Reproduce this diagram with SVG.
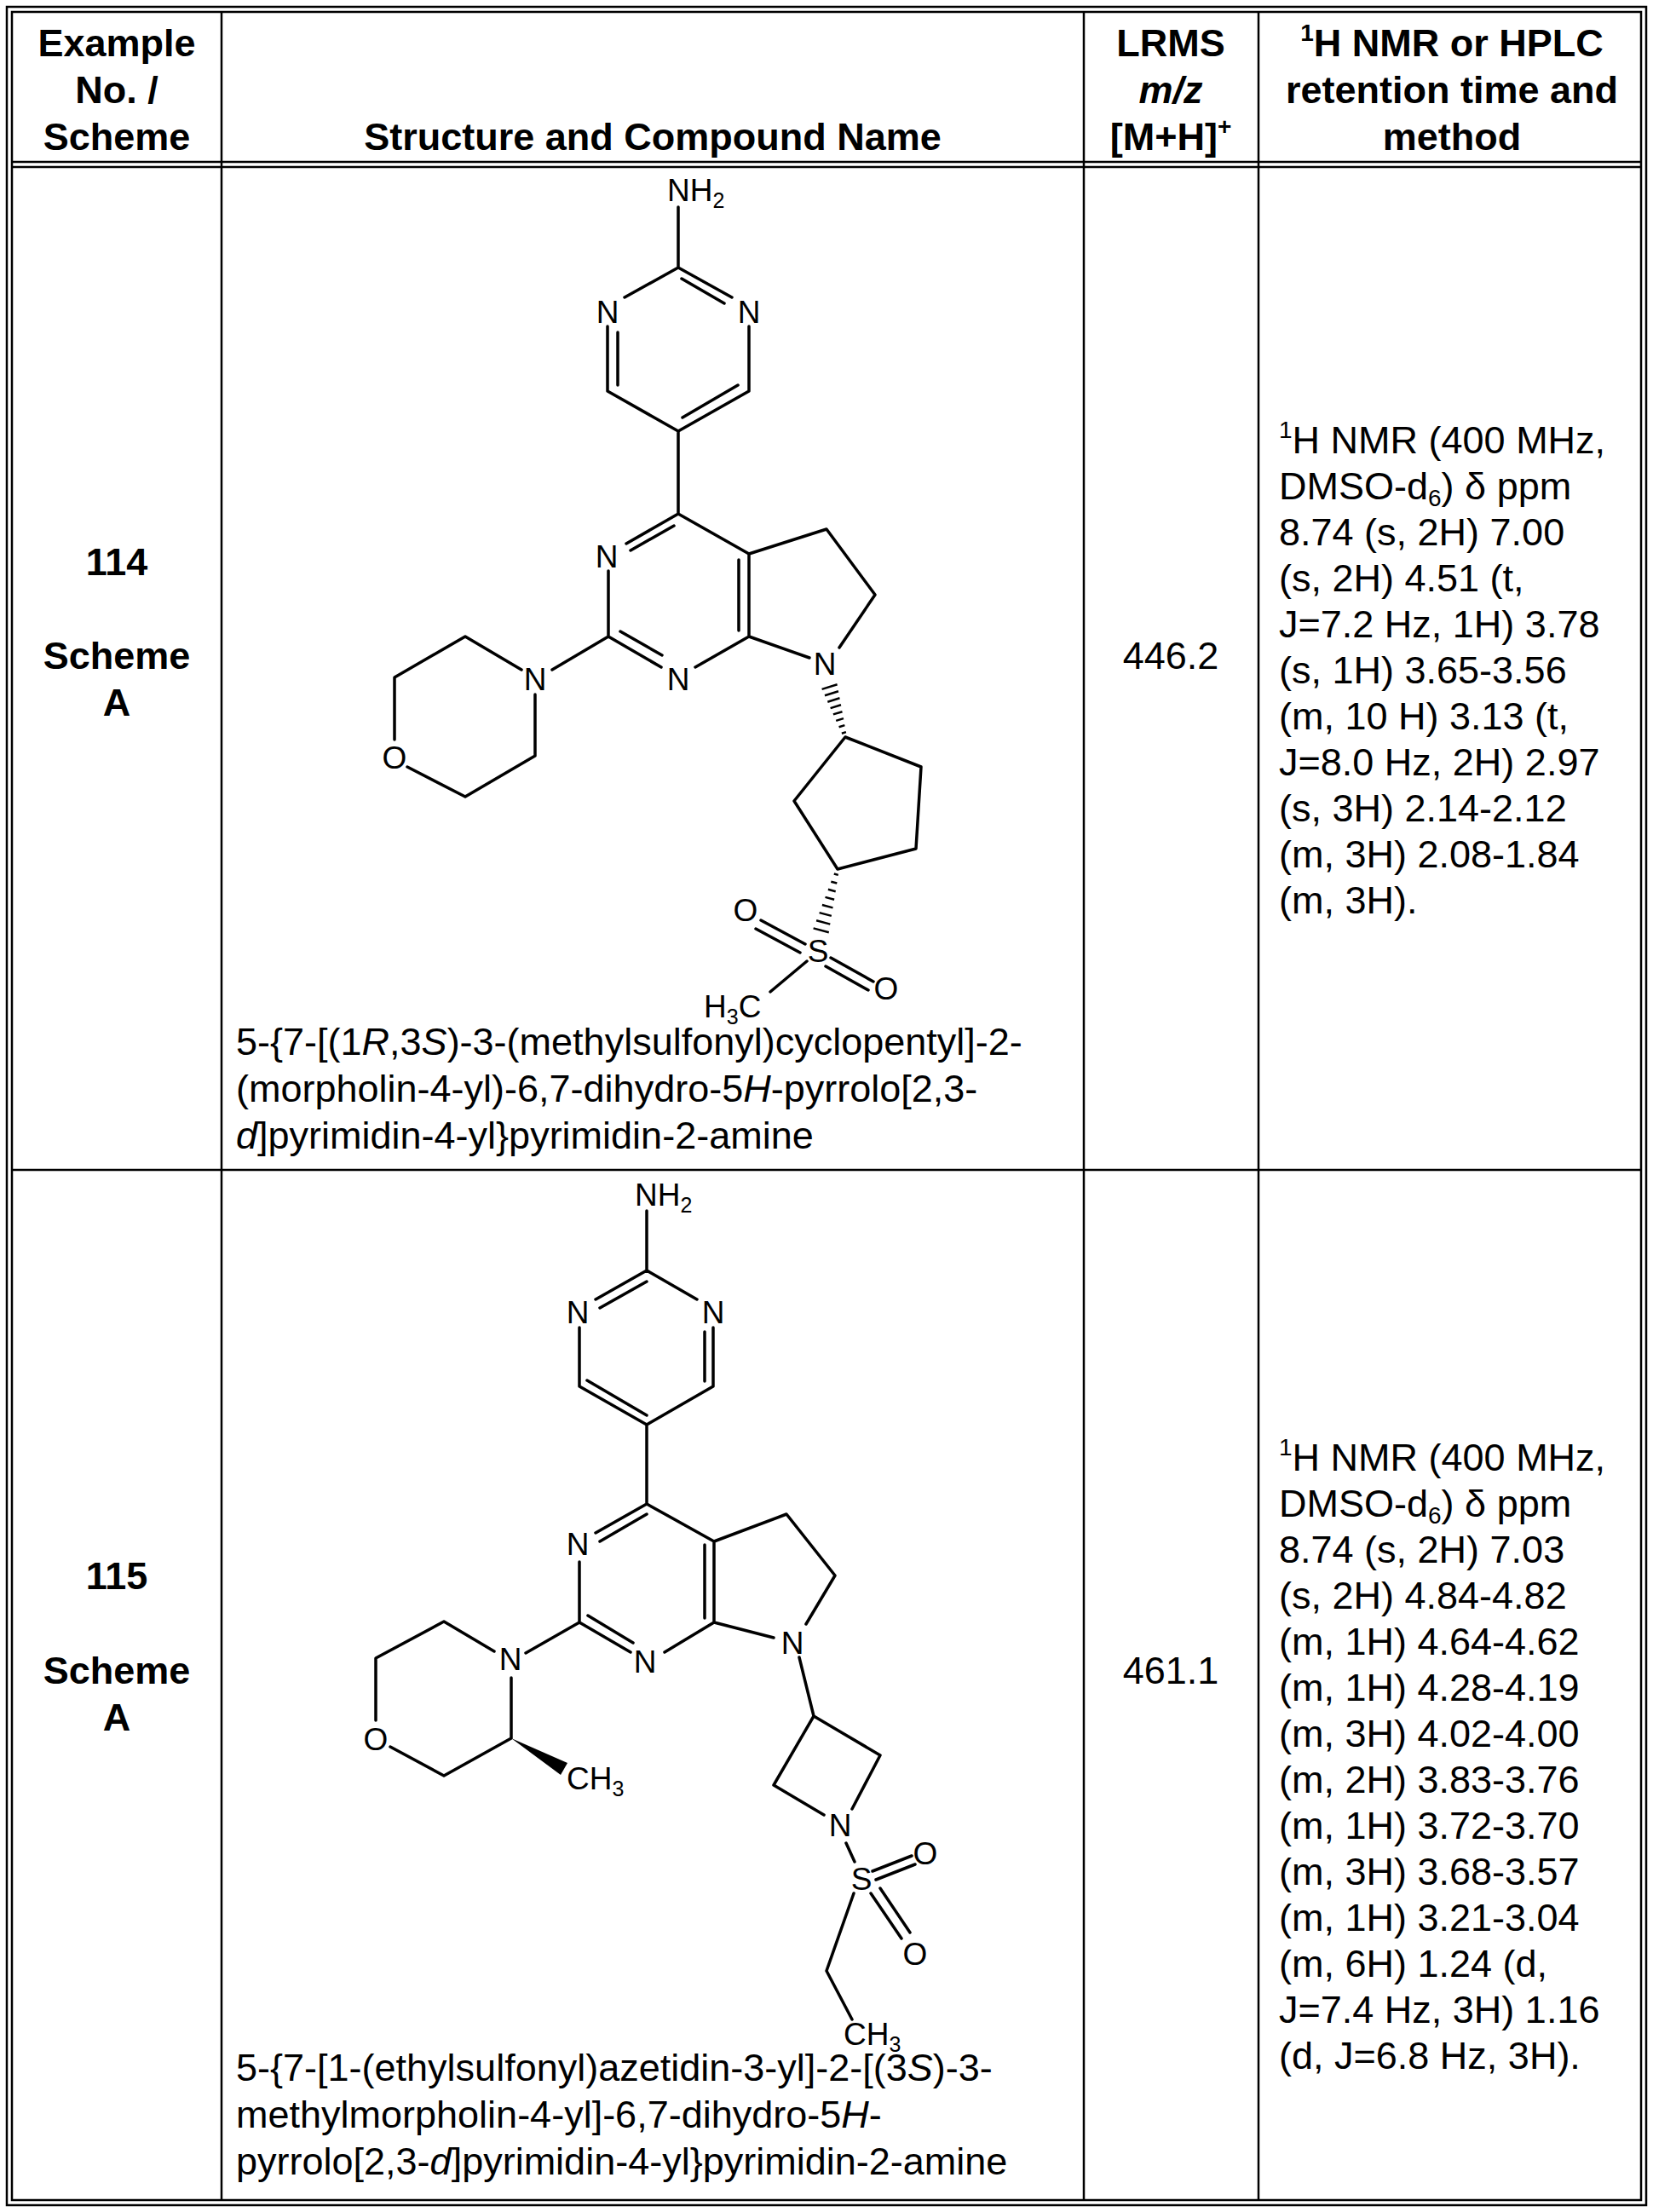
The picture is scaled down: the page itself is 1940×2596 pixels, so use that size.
<svg xmlns="http://www.w3.org/2000/svg" width="1940" height="2596" viewBox="0 0 1940 2596">
<style>
.t{font-family:"Liberation Sans",Arial,sans-serif;font-size:45px;fill:#000}
.b{font-weight:bold}
.c{text-anchor:middle}
.a{font-family:"Liberation Sans",Arial,sans-serif;font-size:37px;fill:#000;text-anchor:middle}
.al{font-family:"Liberation Sans",Arial,sans-serif;font-size:37px;fill:#000}
.bd{stroke:#000;stroke-width:3.5;fill:none;stroke-linecap:round;stroke-linejoin:round}
.h{stroke:#000;stroke-width:2.5}
.tb{stroke:#000;stroke-width:2.5;fill:none}
</style>
<rect width="1940" height="2596" fill="#fff"/>
<g id="table">
<rect class="tb" x="8" y="8" width="1924" height="2580"/>
<rect class="tb" x="14" y="14" width="1912" height="2568"/>
<line class="tb" x1="14" y1="190" x2="1926" y2="190"/>
<line class="tb" x1="14" y1="196" x2="1926" y2="196"/>
<line class="tb" x1="14" y1="1373" x2="1926" y2="1373"/>
<line class="tb" x1="260" y1="14" x2="260" y2="2582"/>
<line class="tb" x1="1272" y1="14" x2="1272" y2="2582"/>
<line class="tb" x1="1477" y1="14" x2="1477" y2="2582"/>
</g>
<g id="header">
<text class="t b c" x="137" y="66">Example</text>
<text class="t b c" x="137" y="121">No. /</text>
<text class="t b c" x="137" y="176">Scheme</text>
<text class="t b c" x="766" y="176">Structure and Compound Name</text>
<text class="t b c" x="1374" y="66">LRMS</text>
<text class="t b c" x="1374" y="121" font-style="italic">m/z</text>
<text class="t b c" x="1374" y="176">[M+H]<tspan font-size="28" dy="-18">+</tspan></text>
<text class="t b c" x="1704" y="66"><tspan font-size="28" dy="-18">1</tspan><tspan dy="18">H NMR or HPLC</tspan></text>
<text class="t b c" x="1704" y="121">retention time and</text>
<text class="t b c" x="1704" y="176">method</text>
</g>
<g id="row114">
<text class="t b c" x="137" y="675">114</text>
<text class="t b c" x="137" y="785">Scheme</text>
<text class="t b c" x="137" y="840">A</text>
<text class="t c" x="1374" y="785">446.2</text>
<text class="t" x="1501">
<tspan x="1501" y="532"><tspan font-size="28" dy="-18">1</tspan><tspan dy="18">H NMR (400 MHz,</tspan></tspan>
<tspan x="1501" y="586">DMSO-d<tspan font-size="28" dy="8">6</tspan><tspan dy="-8">) δ ppm</tspan></tspan>
<tspan x="1501" y="640">8.74 (s, 2H) 7.00</tspan>
<tspan x="1501" y="694">(s, 2H) 4.51 (t,</tspan>
<tspan x="1501" y="748">J=7.2 Hz, 1H) 3.78</tspan>
<tspan x="1501" y="802">(s, 1H) 3.65-3.56</tspan>
<tspan x="1501" y="856">(m, 10 H) 3.13 (t,</tspan>
<tspan x="1501" y="910">J=8.0 Hz, 2H) 2.97</tspan>
<tspan x="1501" y="964">(s, 3H) 2.14-2.12</tspan>
<tspan x="1501" y="1018">(m, 3H) 2.08-1.84</tspan>
<tspan x="1501" y="1072">(m, 3H).</tspan>
</text>
<text class="t" x="277" y="1238">5-{7-[(1<tspan font-style="italic">R</tspan>,3<tspan font-style="italic">S</tspan>)-3-(methylsulfonyl)cyclopentyl]-2-</text>
<text class="t" x="277" y="1293">(morpholin-4-yl)-6,7-dihydro-5<tspan font-style="italic">H</tspan>-pyrrolo[2,3-</text>
<text class="t" x="277" y="1348"><tspan font-style="italic">d</tspan>]pyrimidin-4-yl}pyrimidin-2-amine</text>
</g>
<g id="mol114">
<g class="bd">
<path d="M796,243 L796,314 L733,349 M796,314 L859,349 M800,327 L850,356 M713,383 L713,459 L796,506 L879,459 L879,383 M725,390 L725,452 M866,452 L801,490 M796,506 L796,603 L735,638 M791,617 L740,646 M714,670 L714,747 L776,783 M728,741 L777,769 M816,783 L879,747 L879,650 L796,603 M867,740 L867,657 M879,650 L970,621 L1027,698 L985,760 M879,747 L950,772 M714,747 L648,786 M612,786 L546,747 L463,795 L463,868 M478,900 L546,935 L628,887 L628,815 M992,865 L1081,900 L1075,996 L983,1020 L932,940 Z M893,1080 L945,1108 M887,1090 L939,1118 M975,1124 L1025,1152 M969,1134 L1019,1162 M947,1128 L904,1164"/>
</g>
<g class="h">
<path d="M964.6,808.9 L982.6,803.3 M968,816.3 L984,811.3 M971.3,823.7 L985.5,819.3 M974.6,831.1 L987,827.3 M977.9,838.4 L988.5,835.2 M981.2,845.9 L990,843.1 M984.6,853.3 L991.4,851.1 M987.9,860.7 L992.9,859.1"/>
<path d="M978.8,1025.5 L983.8,1026.9 M975.3,1034.7 L982.3,1036.5 M971.9,1043.8 L980.7,1046.2 M968.5,1052.9 L979.1,1055.7 M964.9,1062 L977.5,1065.4 M961.6,1071.1 L975.8,1074.9 M958.1,1080.2 L974.3,1084.6 M954.6,1089.4 L972.8,1094.2"/>
</g>
<text class="al" x="783" y="236">NH<tspan font-size="25" dy="8">2</tspan></text>
<text class="a" x="713" y="379">N</text>
<text class="a" x="879" y="379">N</text>
<text class="a" x="712" y="666">N</text>
<text class="a" x="796" y="810">N</text>
<text class="a" x="968" y="792">N</text>
<text class="a" x="628" y="810">N</text>
<text class="a" x="463" y="902">O</text>
<text class="a" x="960" y="1129">S</text>
<text class="a" x="875" y="1081">O</text>
<text class="a" x="1040" y="1173">O</text>
<text class="al" x="826" y="1194">H<tspan font-size="25" dy="8">3</tspan><tspan dy="-8">C</tspan></text>
</g>
<g id="row115">
<text class="t b c" x="137" y="1865">115</text>
<text class="t b c" x="137" y="1976">Scheme</text>
<text class="t b c" x="137" y="2031">A</text>
<text class="t c" x="1374" y="1976">461.1</text>
<text class="t" x="1501">
<tspan x="1501" y="1726"><tspan font-size="28" dy="-18">1</tspan><tspan dy="18">H NMR (400 MHz,</tspan></tspan>
<tspan x="1501" y="1780">DMSO-d<tspan font-size="28" dy="8">6</tspan><tspan dy="-8">) δ ppm</tspan></tspan>
<tspan x="1501" y="1834">8.74 (s, 2H) 7.03</tspan>
<tspan x="1501" y="1888">(s, 2H) 4.84-4.82</tspan>
<tspan x="1501" y="1942">(m, 1H) 4.64-4.62</tspan>
<tspan x="1501" y="1996">(m, 1H) 4.28-4.19</tspan>
<tspan x="1501" y="2050">(m, 3H) 4.02-4.00</tspan>
<tspan x="1501" y="2104">(m, 2H) 3.83-3.76</tspan>
<tspan x="1501" y="2158">(m, 1H) 3.72-3.70</tspan>
<tspan x="1501" y="2212">(m, 3H) 3.68-3.57</tspan>
<tspan x="1501" y="2266">(m, 1H) 3.21-3.04</tspan>
<tspan x="1501" y="2320">(m, 6H) 1.24 (d,</tspan>
<tspan x="1501" y="2374">J=7.4 Hz, 3H) 1.16</tspan>
<tspan x="1501" y="2428">(d, J=6.8 Hz, 3H).</tspan>
</text>
<text class="t" x="277" y="2442">5-{7-[1-(ethylsulfonyl)azetidin-3-yl]-2-[(3<tspan font-style="italic">S</tspan>)-3-</text>
<text class="t" x="277" y="2497">methylmorpholin-4-yl]-6,7-dihydro-5<tspan font-style="italic">H</tspan>-</text>
<text class="t" x="277" y="2552">pyrrolo[2,3-<tspan font-style="italic">d</tspan>]pyrimidin-4-yl}pyrimidin-2-amine</text>
</g>
<g id="mol115">
<g class="bd">
<path d="M759,1421 L759,1491 L699,1525 M759,1504 L704,1535 M759,1491 L818,1525 M680,1558 L680,1627 L759,1672 L837,1627 L837,1558 M827,1563 L827,1621 M689,1620 L759,1661 M759,1672 L759,1765 L699,1799 M759,1777 L704,1809 M680,1833 L680,1904 L740,1939 M690,1896 L743,1928 M780,1939 L838,1904 L838,1809 L759,1765 M827,1899 L827,1813 M838,1809 L923,1777 L980,1849 L946,1906 M838,1904 L908,1922 M680,1904 L617,1940 M580,1938 L521,1903 L441,1946 L441,2019 M458,2050 L521,2084 L600,2040 L600,1969 M938,1945 L955,2014 L1033,2060 L1000,2123 M967,2130 L908,2095 L955,2014 M993,2163 L1003,2185 M1024,2196 L1070,2178 M1028,2206 L1074,2188 M1022,2222 L1058,2275 M1033,2216 L1068,2268 M1002,2222 L970,2313 L1000,2370"/>
</g>
<polygon points="600,2040 666,2069 658,2083" fill="#000"/>
<text class="al" x="745" y="1415">NH<tspan font-size="25" dy="8">2</tspan></text>
<text class="a" x="678" y="1553">N</text>
<text class="a" x="837" y="1553">N</text>
<text class="a" x="678" y="1825">N</text>
<text class="a" x="757" y="1963">N</text>
<text class="a" x="930" y="1941">N</text>
<text class="a" x="599" y="1960">N</text>
<text class="a" x="441" y="2054">O</text>
<text class="al" x="665" y="2100">CH<tspan font-size="25" dy="8">3</tspan></text>
<text class="a" x="986" y="2155">N</text>
<text class="a" x="1011" y="2218">S</text>
<text class="a" x="1086" y="2188">O</text>
<text class="a" x="1074" y="2306">O</text>
<text class="al" x="990" y="2400">CH<tspan font-size="25" dy="8">3</tspan></text>
</g>
</svg>
